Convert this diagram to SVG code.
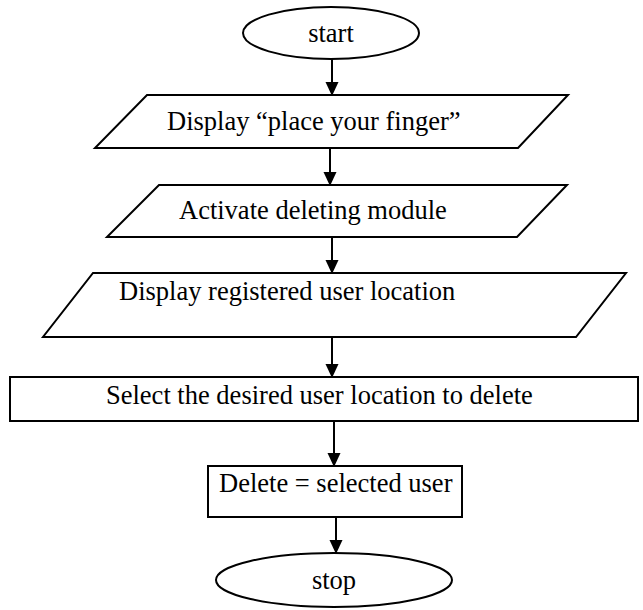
<svg xmlns="http://www.w3.org/2000/svg" width="643" height="610" viewBox="0 0 643 610">
<defs>
<marker id="ah" markerWidth="14" markerHeight="15" refX="14" refY="7" orient="auto" markerUnits="userSpaceOnUse" viewBox="0 0 15 14">
<path d="M0,0 L15,7 L0,14 Z" fill="#000"/>
</marker>
</defs>
<style>
.s{fill:#fff;stroke:#000;stroke-width:2}
.t{font-family:"Liberation Serif","Times New Roman",serif;font-size:26.5px;fill:#000}
.c{stroke:#000;stroke-width:2;fill:none;marker-end:url(#ah)}
</style>
<rect width="643" height="610" fill="#fff"/>
<g id="start">
<ellipse class="s" cx="331" cy="33" rx="88" ry="26"/>
<text class="t" x="331" y="42" text-anchor="middle">start</text>
</g>
<g id="display-finger">
<polygon class="s" points="147,95 568,95 518,148 95,148"/>
<text class="t" x="167" y="130">Display “place your finger”</text>
</g>
<g id="activate">
<polygon class="s" points="159,185 567,185 517,237 107,237"/>
<text class="t" x="179" y="219">Activate deleting module</text>
</g>
<g id="display-registered">
<polygon class="s" points="93,273 626,273 576,337 43,337"/>
<text class="t" x="119" y="300">Display registered user location</text>
</g>
<g id="select">
<rect class="s" x="10" y="377" width="628" height="44"/>
<text class="t" x="106" y="404">Select the desired user location to delete</text>
</g>
<g id="delete">
<rect class="s" x="208" y="466" width="254" height="51"/>
<text class="t" x="219" y="492">Delete = selected user</text>
</g>
<g id="stop">
<ellipse class="s" cx="334" cy="580" rx="118" ry="27"/>
<text class="t" x="334" y="589" text-anchor="middle">stop</text>
</g>
<g id="connectors">
<line class="c" x1="332" y1="59" x2="332" y2="95"/>
<line class="c" x1="330" y1="148" x2="330" y2="185"/>
<line class="c" x1="332" y1="237" x2="332" y2="273"/>
<line class="c" x1="332" y1="337" x2="332" y2="377"/>
<line class="c" x1="334" y1="421" x2="334" y2="466"/>
<line class="c" x1="336" y1="517" x2="336" y2="553"/>
</g>
</svg>
